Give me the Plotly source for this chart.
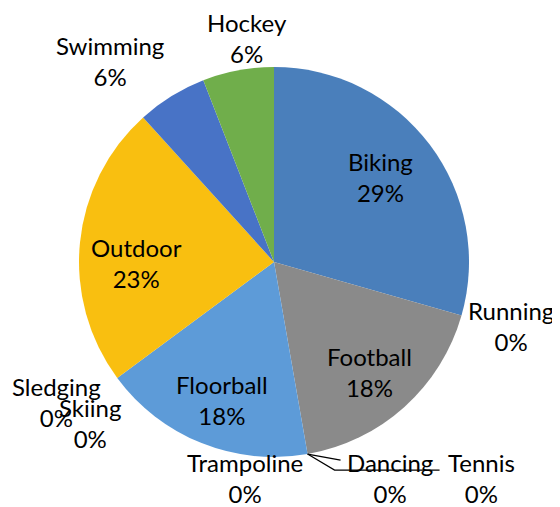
import math
import plotly.graph_objects as go

# ---- data ----
labels = ["Biking", "Running", "Football", "Tennis", "Dancing", "Trampoline",
          "Floorball", "Skiing", "Sledging", "Outdoor", "Swimming", "Hockey"]
values = [29.4, 0, 17.8, 0, 0, 0, 17.6, 0, 0, 23.4, 5.8, 5.9]

# ---- style ----
colors = ["#4a7fbb", "#4a7fbb", "#8a8a8a", "#8a8a8a", "#8a8a8a", "#8a8a8a",
          "#5d9bd8", "#5d9bd8", "#f7bd08", "#f9bf10", "#4873c6", "#70ae4b"]
FONT = dict(family="Lato", size=24, color="black")
W, H = 552, 499          # page body has an 8px margin
L, T, S = 71, 59, 390    # plot area (square)

# label placement (pixels, relative to slice edge point / mid-radius point)
inside_r = 0.72
inside_nudge = {"Biking": (-6, 0), "Football": (2, 6), "Floorball": (0, 8), "Outdoor": (2, 15)}
outside_offset = {"Running": (50, 10), "Tennis": (174, 24), "Dancing": (82, 24),
                  "Trampoline": (-63, 24), "Skiing": (-27, 45), "Sledging": (-61, 24),
                  "Swimming": (-61, -35), "Hockey": (9, -32)}

fig = go.Figure(go.Pie(
    labels=labels, values=values, sort=False, direction="clockwise", rotation=0,
    marker=dict(colors=colors, line=dict(width=0)),
    textinfo="none", hoverinfo="label+percent",
    showlegend=False, automargin=False,
))

total = sum(values)
cum = 0.0
annotations = []
edge_pts = {}
for lab, v in zip(labels, values):
    start = cum / total
    cum += v
    end = cum / total
    mid = (start + end) / 2
    a = 2 * math.pi * mid
    pct = f"{round(v / total * 100)}%"
    text = f"{lab}<br>{pct}"
    if lab in inside_nudge:
        dx, dy = inside_nudge[lab]
        x = 0.5 + inside_r * 0.5 * math.sin(a) + dx / S
        y = 0.5 + inside_r * 0.5 * math.cos(a) - dy / S
    else:
        ex = 0.5 + 0.5 * math.sin(a)
        ey = 0.5 + 0.5 * math.cos(a)
        edge_pts[lab] = (ex, ey)
        dx, dy = outside_offset[lab]
        x = ex + dx / S
        y = ey - dy / S
    annotations.append(dict(x=x, y=y, xref="paper", yref="paper", text=text,
                            showarrow=False, xanchor="center", yanchor="middle",
                            font=FONT, align="center"))

# leader lines near the Football/Floorball boundary
ex, ey = edge_pts["Dancing"]
def P(dx, dy):
    return ex + dx / S, ey - dy / S
p1 = P(27, 16); p2 = P(132, 16); p3 = P(33, 6)
shapes = [
    dict(type="path", xref="paper", yref="paper",
         path=f"M {ex},{ey} L {p1[0]},{p1[1]} L {p2[0]},{p2[1]}",
         line=dict(color="black", width=1.2)),
    dict(type="path", xref="paper", yref="paper",
         path=f"M {ex},{ey} L {p3[0]},{p3[1]}",
         line=dict(color="black", width=1.2)),
]

fig.update_layout(
    width=W, height=H,
    margin=dict(l=L, r=W - L - S, t=T, b=H - T - S),
    paper_bgcolor="white", plot_bgcolor="white",
    annotations=annotations, shapes=shapes,
)
fig.write_html("out.html")
